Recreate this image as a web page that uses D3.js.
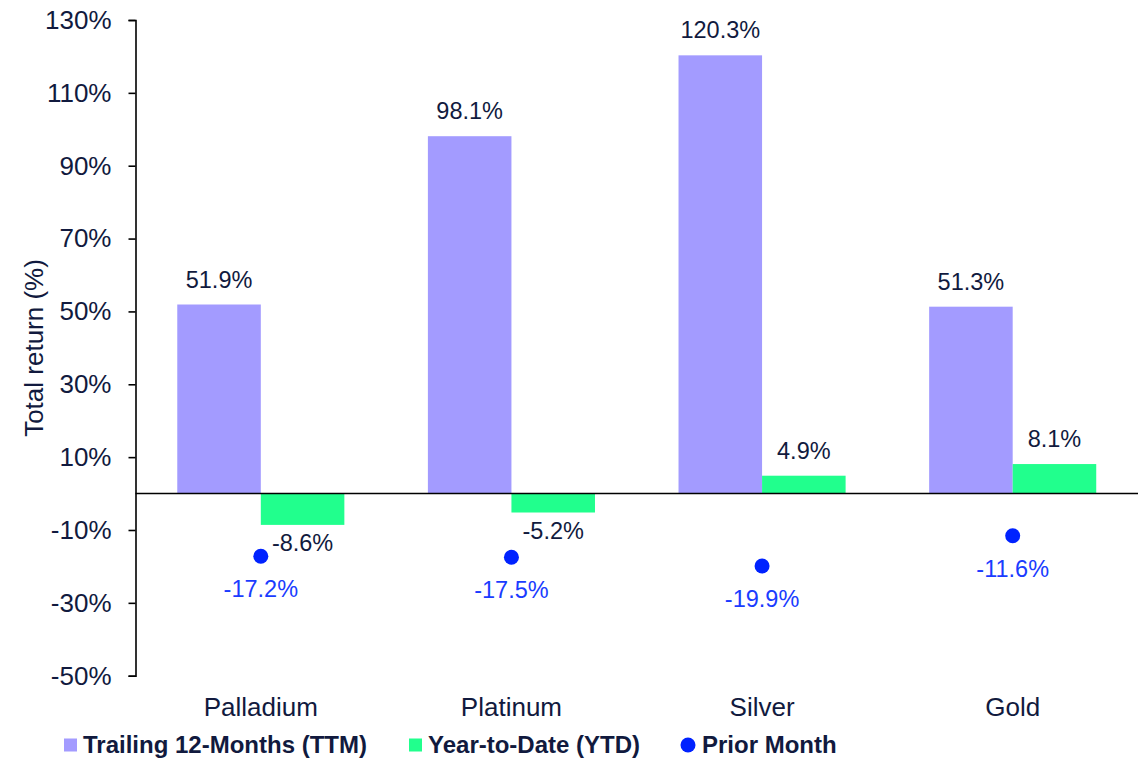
<!DOCTYPE html>
<html>
<head>
<meta charset="utf-8">
<script src="https://cdn.jsdelivr.net/npm/d3@7"></script>
<style>
  html, body { margin: 0; padding: 0; background: #ffffff; }
  svg { display: block; font-family: Arial, "Liberation Sans", sans-serif; }
</style>
</head>
<body>
<svg id="chart" width="1148" height="759"></svg>
<script>
// Precious metals total returns
const categories = ["Palladium", "Platinum", "Silver", "Gold"];
const ttmValues = [51.9, 98.1, 120.3, 51.3];       // Trailing 12-Months (TTM)
const ytdValues = [-8.6, -5.2, 4.9, 8.1];          // Year-to-Date (YTD)
const priorMonthValues = [-17.2, -17.5, -19.9, -11.6]; // Prior Month
const yTicks = [-50, -30, -10, 10, 30, 50, 70, 90, 110, 130];
const legendLabels = ["Trailing 12-Months (TTM)", "Year-to-Date (YTD)", "Prior Month"];

const textColor = "#111a3e";
const ttmColor = "#a39bff";
const ytdColor = "#21ff8d";
const dotColor = "#0022ff";
const dotLabelColor = "#1a3cff";

const svg = d3.select("#chart");
const plotLeft = 135.5, plotRight = 1138, plotTop = 20, plotBottom = 675.7;

const x = d3.scaleBand().domain(categories).range([plotLeft, plotRight]).padding(0);
const bw = x.bandwidth() / 3;
const y = d3.scaleLinear().domain([-50, 130]).range([plotBottom, plotTop]);
const fmt = v => v.toFixed(1) + "%";

// Bars
const g = svg.append("g");
g.selectAll("rect.ttm").data(categories).join("rect")
  .attr("class", "ttm")
  .attr("x", d => x(d) + x.bandwidth() / 2 - bw)
  .attr("width", bw)
  .attr("y", (d, i) => y(Math.max(0, ttmValues[i])))
  .attr("height", (d, i) => Math.abs(y(ttmValues[i]) - y(0)))
  .attr("fill", ttmColor);

g.selectAll("rect.ytd").data(categories).join("rect")
  .attr("class", "ytd")
  .attr("x", d => x(d) + x.bandwidth() / 2)
  .attr("width", bw)
  .attr("y", (d, i) => y(Math.max(0, ytdValues[i])))
  .attr("height", (d, i) => Math.abs(y(ytdValues[i]) - y(0)))
  .attr("fill", ytdColor);

// Zero line
svg.append("line")
  .attr("x1", plotLeft).attr("x2", plotRight)
  .attr("y1", y(0)).attr("y2", y(0))
  .attr("stroke", "#000").attr("stroke-width", 1.6);

// Y axis
const yAxis = d3.axisLeft(y).tickValues(yTicks).tickSize(7).tickPadding(17)
  .tickFormat(d => d + "%");
const ya = svg.append("g").attr("transform", `translate(${plotLeft},0)`).call(yAxis);
ya.select(".domain").attr("stroke", "#000").attr("stroke-width", 1.6);
ya.selectAll(".tick line").attr("stroke", "#000").attr("stroke-width", 1.6);
ya.selectAll(".tick text")
  .attr("fill", textColor)
  .style("font-size", "26px")
  .attr("font-family", "Arial, 'Liberation Sans', sans-serif");

// Y axis title
svg.append("text")
  .attr("transform", `translate(43,348) rotate(-90)`)
  .attr("text-anchor", "middle")
  .attr("fill", textColor)
  .style("font-size", "26px")
  .text("Total return (%)");

// Category labels
svg.selectAll("text.cat").data(categories).join("text")
  .attr("class", "cat")
  .attr("x", d => x(d) + x.bandwidth() / 2)
  .attr("y", 716)
  .attr("text-anchor", "middle")
  .attr("fill", textColor)
  .style("font-size", "26px")
  .text(d => d);

// TTM value labels
svg.selectAll("text.ttmLbl").data(categories).join("text")
  .attr("class", "ttmLbl")
  .attr("x", d => x(d) + x.bandwidth() / 2 - bw / 2)
  .attr("y", (d, i) => y(ttmValues[i]) - 17)
  .attr("text-anchor", "middle")
  .attr("fill", textColor)
  .style("font-size", "23.5px")
  .text((d, i) => fmt(ttmValues[i]));

// YTD value labels
svg.selectAll("text.ytdLbl").data(categories).join("text")
  .attr("class", "ytdLbl")
  .attr("x", d => x(d) + x.bandwidth() / 2 + bw / 2)
  .attr("y", (d, i) => ytdValues[i] >= 0 ? y(ytdValues[i]) - 17 : y(ytdValues[i]) + 26)
  .attr("text-anchor", "middle")
  .attr("fill", textColor)
  .style("font-size", "23.5px")
  .text((d, i) => fmt(ytdValues[i]));

// Prior month dots
svg.selectAll("circle.pm").data(categories).join("circle")
  .attr("class", "pm")
  .attr("cx", d => x(d) + x.bandwidth() / 2)
  .attr("cy", (d, i) => y(priorMonthValues[i]))
  .attr("r", 7.5)
  .attr("fill", dotColor);

svg.selectAll("text.pmLbl").data(categories).join("text")
  .attr("class", "pmLbl")
  .attr("x", d => x(d) + x.bandwidth() / 2)
  .attr("y", (d, i) => y(priorMonthValues[i]) + 41)
  .attr("text-anchor", "middle")
  .attr("fill", dotLabelColor)
  .style("font-size", "23.5px")
  .text((d, i) => fmt(priorMonthValues[i]));

// Legend
const legend = svg.append("g");
const legendItems = [
  { label: legendLabels[0], color: ttmColor, shape: "rect", mx: 64, tx: 83 },
  { label: legendLabels[1], color: ytdColor, shape: "rect", mx: 409, tx: 428 },
  { label: legendLabels[2], color: dotColor, shape: "circle", mx: 681, tx: 702 }
];
legendItems.forEach(it => {
  if (it.shape === "rect") {
    legend.append("rect").attr("x", it.mx).attr("y", 738.5)
      .attr("width", 13).attr("height", 13).attr("fill", it.color);
  } else {
    legend.append("circle").attr("cx", it.mx + 7).attr("cy", 745)
      .attr("r", 7.5).attr("fill", it.color);
  }
  legend.append("text").attr("x", it.tx).attr("y", 752.5)
    .attr("fill", textColor)
    .style("font-size", "24px").style("font-weight", "bold")
    .text(it.label);
});
</script>
</body>
</html>
